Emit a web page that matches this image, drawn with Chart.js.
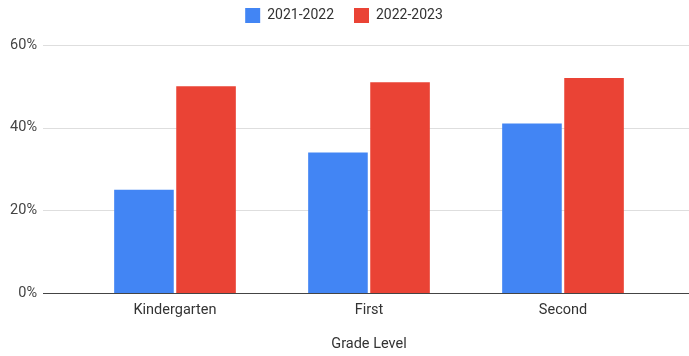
<!DOCTYPE html>
<html>
<head>
<meta charset="utf-8">
<script src="https://cdn.jsdelivr.net/npm/chart.js@4/dist/chart.umd.min.js"></script>
<style>
  html, body { margin: 0; padding: 0; background: #fff; }
  #wrap { width: 689px; height: 356px; }
</style>
</head>
<body>
<div id="wrap"><canvas id="gradeChart" width="689" height="356"></canvas></div>
<script>
// 数据
const grades = ['Kindergarten', 'First', 'Second'];
const year2122 = [25, 34, 41];
const year2223 = [50, 51, 52];
const yTicks = [0, 20, 40, 60];

// 横向网格线画满整个宽度（类似 Google Sheets）
const fullGrid = {
    id: 'fullGrid',
    beforeDatasetsDraw(chart) {
        const ctx = chart.ctx;
        const y = chart.scales.y;
        ctx.save();
        ctx.lineWidth = 1;
        ctx.strokeStyle = '#dedede';
        yTicks.forEach(v => {
            if (v === 0) return;
            const py = Math.round(y.getPixelForValue(v)) + 0.5;
            ctx.beginPath();
            ctx.moveTo(43, py);
            ctx.lineTo(chart.width, py);
            ctx.stroke();
        });
        ctx.restore();
    },
    afterDatasetsDraw(chart) {
        const ctx = chart.ctx;
        const py = Math.round(chart.scales.y.getPixelForValue(0)) + 0.5;
        ctx.save();
        ctx.lineWidth = 1.2;
        ctx.strokeStyle = '#444';
        ctx.beginPath();
        ctx.moveTo(43, py);
        ctx.lineTo(chart.width, py);
        ctx.stroke();
        ctx.restore();
    }
};

// 调整图例的高度和位置
const legendPos = {
    id: 'legendPos',
    beforeLayout(chart) {
        const lg = chart.legend;
        if (lg && !lg._patched) {
            const fit = lg.fit;
            lg.fit = function () {
                fit.call(this);
                this.height = 45;
            };
            lg._patched = true;
        }
    },
    afterLayout(chart) {
        const lg = chart.legend;
        if (!lg) return;
        lg.top -= 12;
        lg.bottom -= 12;
        lg.left += 14;
        lg.right += 14;
    }
};

new Chart(document.getElementById('gradeChart').getContext('2d'), {
    type: 'bar',
    data: {
        labels: grades,
        datasets: [
            { label: '2021-2022', data: year2122, backgroundColor: '#4285f4' },
            { label: '2022-2023', data: year2223, backgroundColor: '#ea4335' }
        ]
    },
    options: {
        responsive: false,
        animation: false,
        categoryPercentage: 0.64,
        barPercentage: 0.96,
        layout: { padding: { left: 0, right: 29, top: 0, bottom: 3 } },
        plugins: {
            legend: {
                position: 'top',
                labels: {
                    color: '#333',
                    font: { family: 'Roboto', size: 14 },
                    boxWidth: 15,
                    boxHeight: 15,
                    padding: 20
                }
            },
            tooltip: { enabled: false }
        },
        scales: {
            y: {
                min: 0,
                max: 60,
                afterBuildTicks(scale) {
                    scale.ticks = yTicks.map(v => ({ value: v }));
                },
                afterFit(scale) { scale.width = 78; },
                ticks: {
                    color: '#444',
                    font: { family: 'Roboto', size: 14.5 },
                    padding: 6,
                    callback: v => v + '%'
                },
                // 刻度线长度只用来留出标签和图区之间的空白
                grid: { display: false, drawTicks: true, tickLength: 35 },
                border: { display: false }
            },
            x: {
                ticks: {
                    color: '#333',
                    font: { family: 'Roboto', size: 14.5 },
                    padding: 8
                },
                grid: { display: false, drawTicks: false },
                border: { display: false },
                title: {
                    display: true,
                    text: 'Grade Level',
                    color: '#333',
                    font: { family: 'Roboto', size: 14.5 },
                    padding: { top: 9, bottom: 0 }
                }
            }
        }
    },
    plugins: [fullGrid, legendPos]
});
</script>
</body>
</html>
